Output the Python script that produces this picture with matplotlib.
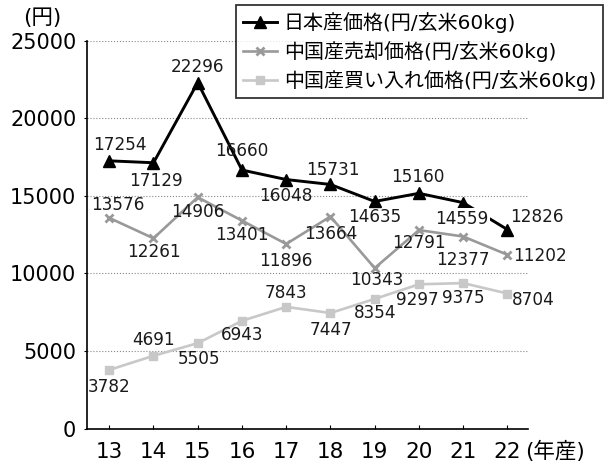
import matplotlib
matplotlib.use("Agg")
import matplotlib.pyplot as plt

plt.rcParams['font.family'] = ['DejaVu Sans', 'Noto Sans CJK JP']

years = [13, 14, 15, 16, 17, 18, 19, 20, 21, 22]
japan = [17254, 17129, 22296, 16660, 16048, 15731, 14635, 15160, 14559, 12826]
china_sell = [13576, 12261, 14906, 13401, 11896, 13664, 10343, 12791, 12377, 11202]
china_buy = [3782, 4691, 5505, 6943, 7843, 7447, 8354, 9297, 9375, 8704]
names = ['日本産価格(円/玄米60kg)', '中国産売却価格(円/玄米60kg)', '中国産買い入れ価格(円/玄米60kg)']

# label offsets (pixels) relative to each point
off_japan = [(11, 16), (2, -18), (0, 16), (0, 19), (0, -16), (2, 14), (0, -16), (-1, 16), (-1, -16), (30, 13)]
off_sell = [(9, 13), (0, -14), (0, -15), (0, -14), (0, -17), (0, -17), (2, -12), (0, -13), (0, -23), (33, -1)]
off_buy = [(0, -17), (0, 16), (1, -16), (0, -14), (0, 14), (1, -17), (0, -14), (-2, -16), (0, -15), (26, -6)]

fig = plt.figure(figsize=(6.05, 4.63), dpi=100)
ax = fig.add_axes([0.1433, 0.0743, 0.873 - 0.1433, 0.9123 - 0.0743])

ax.plot(years, china_buy, color='#c8c8c8', lw=1.9, marker='s', ms=5.5, label=names[2], zorder=3)
ax.plot(years, china_sell, color='#999999', lw=1.9, marker='x', ms=6, mew=2, label=names[1], zorder=4)
ax.plot(years, japan, color='black', lw=2.1, marker='^', ms=8.5, label=names[0], zorder=5)

def put_labels(vals, offs, skip=()):
    for i, (x, v, o) in enumerate(zip(years, vals, offs)):
        bb = None
        if i in skip:
            bb = dict(boxstyle='square,pad=0.1', fc='white', ec='none')
        ax.annotate(str(v), (x, v), xytext=o, textcoords='offset pixels',
                    ha='center', va='center', fontsize=12.2, color='#1a1a1a',
                    zorder=6, bbox=bb)

put_labels(japan, off_japan, skip=(8,))
put_labels(china_sell, off_sell)
put_labels(china_buy, off_buy)

ax.set_xlim(12.49, 22.47)
ax.set_ylim(0, 25000)
ax.set_xticks(years)
ax.set_yticks(range(0, 25001, 5000))
ax.yaxis.grid(True, linestyle=':', color='#888888', lw=0.8)
ax.set_axisbelow(True)
ax.spines['top'].set_visible(False)
ax.spines['right'].set_visible(False)
ax.spines['left'].set_linewidth(1.2)
ax.spines['bottom'].set_linewidth(1.2)
ax.tick_params(axis='x', direction='in', length=3, pad=10, labelsize=15.5)
ax.tick_params(axis='y', direction='out', length=2.5, pad=5, labelsize=15)

fig.text(42 / 605, 1 - 18 / 463, '(円)', ha='center', va='center', fontsize=15.5)
fig.text(555 / 605, 1 - 451 / 463, '(年産)', ha='center', va='center', fontsize=15.5)

h, l = ax.get_legend_handles_labels()
leg = ax.legend(h[::-1], l[::-1], loc='upper right', bbox_to_anchor=(603 / 605, 1 - 5 / 463),
                bbox_transform=fig.transFigure, fontsize=14.4, frameon=True, fancybox=False,
                edgecolor='black', handlelength=1.7, handletextpad=0.35, labelspacing=0.4,
                borderpad=0.35, borderaxespad=0)
leg.get_frame().set_linewidth(1.3)
leg.set_zorder(10)

fig.savefig('out.png', dpi=100)
